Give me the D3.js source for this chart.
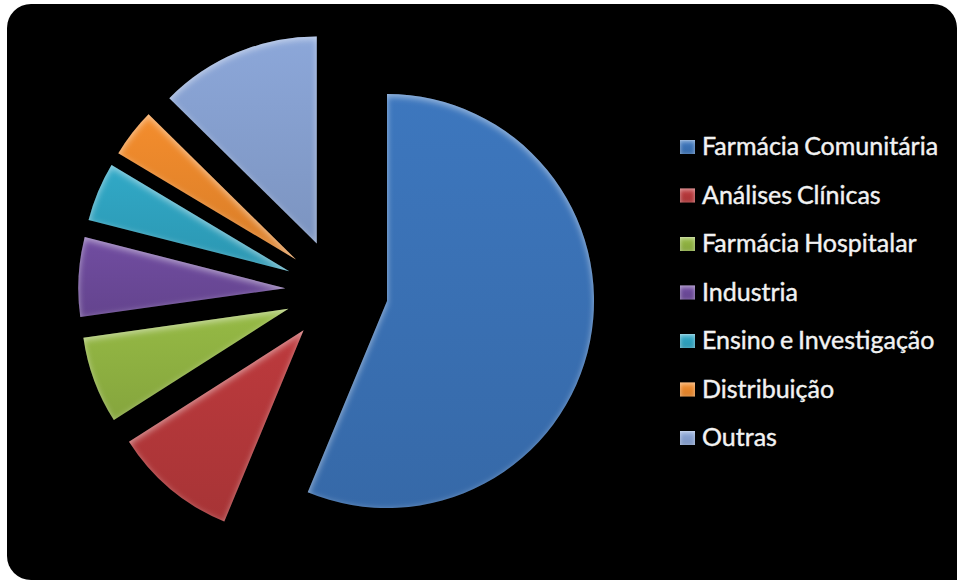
<!DOCTYPE html>
<html>
<head>
<meta charset="utf-8">
<script src="https://cdn.jsdelivr.net/npm/d3@7/dist/d3.min.js"></script>
<style>
  html, body { margin: 0; padding: 0; background: #fff; overflow: hidden; }
  svg { display: block; }
</style>
</head>
<body>
<svg id="chart" width="957" height="580"></svg>
<script>
// Distribution of pharmacists by professional area
const categories = ["Farmácia Comunitária", "Análises Clínicas", "Farmácia Hospitalar", "Industria", "Ensino e Investigação", "Distribuição", "Outras"];
const shares = [56.2, 9.7, 6.8, 6.2, 4.6, 3.8, 12.6];
const sliceColors = ["#3a72b6", "#b5383a", "#90b242", "#6c4a9a", "#2fa2bf", "#ea872b", "#86a0d0"];

const svg = d3.select("#chart");
const defs = svg.append("defs");

const centre = [336.6, 291], radius = 207, explode = 51.4;

// Black rounded panel behind the chart
const panel = d3.path();
{
  const x0 = 7, y0 = 4, x1 = 957, y1 = 580, r = 24;
  panel.moveTo(x0 + r, y0);
  panel.lineTo(x1 - r, y0);
  panel.arcTo(x1, y0, x1, y0 + r, r);
  panel.lineTo(x1, y1);
  panel.lineTo(x0 + r, y1);
  panel.arcTo(x0, y1, x0, y1 - r, r);
  panel.lineTo(x0, y0 + r);
  panel.arcTo(x0, y0, x0 + r, y0, r);
  panel.closePath();
}
svg.append("path").attr("fill", "#000").attr("d", panel.toString());

// Soft bevel: a pale rim all round and a stronger highlight on upward-facing edges
function bevelFilter(id, blur, drop, rimOpacity, topOpacity) {
  const f = defs.append("filter").attr("id", id)
    .attr("x", "-5%").attr("y", "-5%").attr("width", "110%").attr("height", "110%")
    .attr("color-interpolation-filters", "sRGB");
  f.append("feGaussianBlur").attr("in", "SourceAlpha").attr("stdDeviation", blur).attr("result", "soft");
  f.append("feOffset").attr("in", "soft").attr("dx", 0).attr("dy", drop).attr("result", "softDown");

  f.append("feComposite").attr("in", "SourceAlpha").attr("in2", "soft").attr("operator", "out").attr("result", "rim");
  f.append("feColorMatrix").attr("in", "rim").attr("type", "matrix")
    .attr("values", `0 0 0 0 1  0 0 0 0 1  0 0 0 0 1  0 0 0 ${rimOpacity} 0`).attr("result", "rimLight");

  f.append("feComposite").attr("in", "SourceAlpha").attr("in2", "softDown").attr("operator", "out").attr("result", "top");
  f.append("feColorMatrix").attr("in", "top").attr("type", "matrix")
    .attr("values", `0 0 0 0 1  0 0 0 0 1  0 0 0 0 1  0 0 0 ${topOpacity} 0`).attr("result", "topLight");

  const m = f.append("feMerge");
  m.append("feMergeNode").attr("in", "SourceGraphic");
  m.append("feMergeNode").attr("in", "rimLight");
  m.append("feMergeNode").attr("in", "topLight");
}
bevelFilter("bevel", 3.4, 3, 0.14, 0.4);
bevelFilter("bevelSmall", 2.2, 1.5, 0.2, 0.4);

// Vertical shading for each hue, brighter at the top
sliceColors.forEach((c, i) => {
  const g = defs.append("linearGradient").attr("id", "shade" + i)
    .attr("x1", 0).attr("y1", 0).attr("x2", 0).attr("y2", 1);
  g.append("stop").attr("offset", 0).attr("stop-color", d3.color(c).brighter(0.12));
  g.append("stop").attr("offset", 1).attr("stop-color", d3.color(c).darker(0.22));
});

const pie = d3.pie().sort(null).value(d => d);
const arc = d3.arc().innerRadius(0).outerRadius(radius);

svg.append("g")
  .attr("transform", `translate(${centre})`)
  .selectAll("path")
  .data(pie(shares))
  .join("path")
  .attr("transform", d => {
    const mid = (d.startAngle + d.endAngle) / 2;
    return `translate(${Math.sin(mid) * explode},${-Math.cos(mid) * explode})`;
  })
  .attr("d", arc)
  .attr("fill", (d, i) => `url(#shade${i})`)
  .attr("filter", "url(#bevel)");

// Legend
const legendY = d3.scalePoint().domain(categories).range([147, 438]);
const legend = svg.append("g").selectAll("g").data(categories).join("g")
  .attr("transform", d => `translate(680,${legendY(d)})`);
legend.append("rect")
  .attr("x", 0).attr("y", -7).attr("width", 15).attr("height", 14)
  .attr("fill", (d, i) => `url(#shade${i})`)
  .attr("filter", "url(#bevelSmall)");
legend.append("text")
  .attr("x", 22).attr("y", 8)
  .attr("fill", "#f2f2f2")
  .attr("stroke", "#f2f2f2")
  .attr("stroke-width", 0.4)
  .attr("font-family", "Lato, 'Open Sans', sans-serif")
  .attr("font-size", 25)
  .attr("word-spacing", -1.5)
  .text(d => d);
</script>
</body>
</html>
